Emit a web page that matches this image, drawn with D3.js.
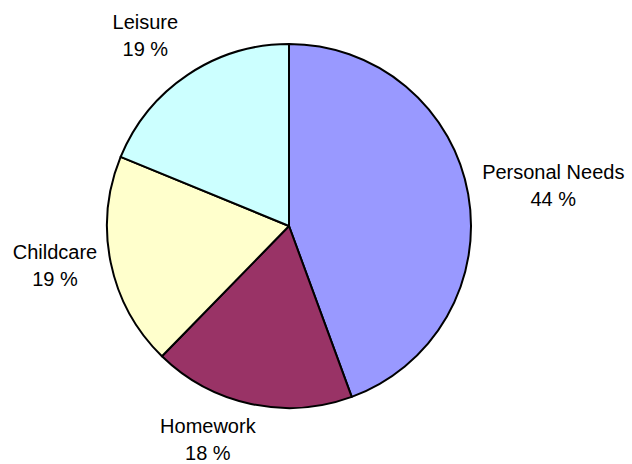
<!DOCTYPE html>
<html>
<head>
<meta charset="utf-8">
<script src="https://cdn.jsdelivr.net/npm/d3@7"></script>
<style>
  body { margin: 0; background: #fff; }
  svg text { font-family: "Liberation Sans", Arial, sans-serif; font-size: 20px; fill: #000; }
</style>
</head>
<body>
<svg id="chart" width="632" height="464"></svg>
<script>
const categories = ["Personal Needs", "Homework", "Childcare", "Leisure"];
const values = [44.4, 17.9, 18.9, 18.8];
const colors = ["#9999ff", "#993366", "#ffffcc", "#ccffff"];

const svg = d3.select("#chart");
const cx = 289, cy = 226, radius = 182;

const pie = d3.pie().sort(null).value(d => d.value);
const arc = d3.arc().innerRadius(0).outerRadius(radius);

const data = categories.map((c, i) => ({ name: c, value: values[i], color: colors[i] }));
const arcs = pie(data);

const g = svg.append("g").attr("transform", `translate(${cx},${cy})`);

g.selectAll("path")
  .data(arcs)
  .enter()
  .append("path")
  .attr("d", arc)
  .attr("fill", d => d.data.color)
  .attr("stroke", "#000")
  .attr("stroke-width", 2)
  .attr("stroke-linejoin", "round");

// labels outside the pie, name on top and rounded percent below
const labelArc = d3.arc().innerRadius(240).outerRadius(240);
const offsets = [[28, -5], [-31, -28], [1, -16], [-10, 2]];

arcs.forEach((d, i) => {
  const [x, y] = labelArc.centroid(d);
  const lx = x + offsets[i][0], ly = y + offsets[i][1];
  const t = g.append("text")
    .attr("text-anchor", "middle")
    .attr("x", lx)
    .attr("y", ly);
  t.append("tspan").attr("x", lx).attr("dy", 0).text(d.data.name);
  t.append("tspan").attr("x", lx).attr("dy", 27).text(Math.round(d.data.value) + " %");
});
</script>
</body>
</html>
